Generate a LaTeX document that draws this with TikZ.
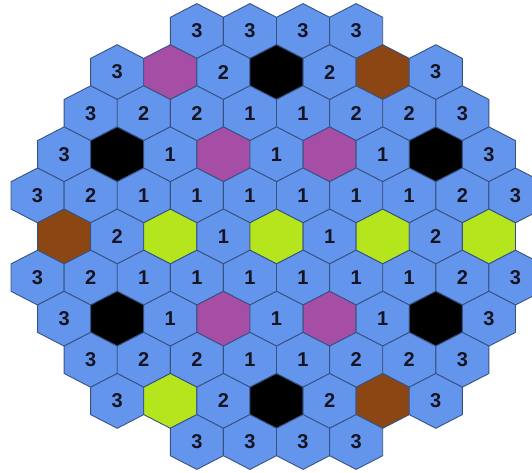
\documentclass[tikz,border=0pt]{standalone}
\usepackage{fontspec}
\setsansfont{Liberation Sans}
\definecolor{hexblue}{RGB}{100,149,237}
\definecolor{hexline}{RGB}{55,82,130}
\definecolor{hexmag}{RGB}{166,77,166}
\definecolor{hexbrown}{RGB}{139,70,20}
\definecolor{hexgreen}{RGB}{181,230,29}
\definecolor{hexink}{RGB}{20,20,35}
\pgfkeys{/hexlbl/.cd, 1/.initial=1, 2/.initial=2, 3/.initial=3,
  m/.initial=, k/.initial=, r/.initial=, g/.initial=}

\begin{document}
\begin{tikzpicture}[x=1pt, y=-1pt,
  hexa/.style={draw=hexline, line width=0.9pt, line join=round},
  num/.style={font=\sffamily\bfseries\fontsize{20}{20}\selectfont, text=hexink, inner sep=0pt},
  f1/.style={fill=hexblue}, f2/.style={fill=hexblue}, f3/.style={fill=hexblue},
  fm/.style={fill=hexmag}, fk/.style={fill=black},
  fr/.style={fill=hexbrown}, fg/.style={fill=hexgreen}]
\useasboundingbox (0,0) rectangle (532,473);
% rows of the core map, top to bottom
\foreach \r/\n/\cells in {
  1/4/{3,3,3,3},
  2/7/{3,m,2,k,2,r,3},
  3/8/{3,2,2,1,1,2,2,3},
  4/9/{3,k,1,m,1,m,1,k,3},
  5/10/{3,2,1,1,1,1,1,1,2,3},
  6/9/{r,2,g,1,g,1,g,2,g},
  7/10/{3,2,1,1,1,1,1,1,2,3},
  8/9/{3,k,1,m,1,m,1,k,3},
  9/8/{3,2,2,1,1,2,2,3},
  10/7/{3,g,2,k,2,r,3},
  11/4/{3,3,3,3}}{
  \foreach \c [count=\k from 0] in \cells {
    \pgfmathsetmacro{\cx}{276.5+(\k-(\n-1)/2)*53.1}
    \pgfmathsetmacro{\cy}{31+(\r-1)*41.1}
    \draw[hexa, f\c] (\cx,\cy) +(0,-27.4) -- +(26.55,-13.7) -- +(26.55,13.7)
      -- +(0,27.4) -- +(-26.55,13.7) -- +(-26.55,-13.7) -- cycle;
    \node[num] (h\r-\k) at (\cx,\cy) {\pgfkeysvalueof{/hexlbl/\c}};
  }
}
\end{tikzpicture}
\end{document}
